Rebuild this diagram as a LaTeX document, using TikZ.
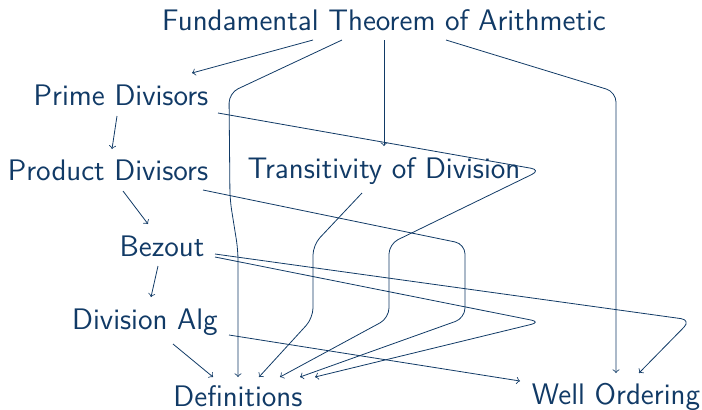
\documentclass[tikz,border=0pt]{standalone}
\usetikzlibrary{calc}
\definecolor{DeepBlue}{HTML}{113A66}
\begin{document}
\begin{tikzpicture}[x=0.5pt, y=-0.5pt,
  thm/.style={inner sep=0, anchor=base, text=DeepBlue, font=\sffamily\fontsize{14.85}{17}\selectfont},
  dep/.style={->, draw=DeepBlue, rounded corners=5pt}]
\useasboundingbox (0,0) rectangle (702,409);
% results, top to bottom
\node[thm] (fta)     at (384,30)  {Fundamental Theorem of Arithmetic};
\node[thm] (prime)   at (121,105) {Prime Divisors};
\node[thm] (product) at (108,180) {Product Divisors};
\node[thm] (trans)   at (384,178) {Transitivity of Division};
\node[thm] (bezout)  at (162,256) {Bezout};
\node[thm] (divalg)  at (145,329) {Division Alg};
\node[thm] (defs)    at (238,406) {Definitions};
\node[thm] (well)    at (616,404) {Well Ordering};
% straight dependencies
\draw[dep] ([shift={(-71,10)}]fta.base) -- ([shift={(71,-32)}]prime.base);
\draw[dep] ([shift={(0,10)}]fta.base) -- ([shift={(0,-32)}]trans.base);
\draw[dep] ([shift={(-4,11)}]prime.base) -- ([shift={(4,-31)}]product.base);
\draw[dep] ([shift={(15,11)}]product.base) -- ([shift={(-14,-32)}]bezout.base);
\draw[dep] ([shift={(-4,10)}]bezout.base) -- ([shift={(6,-32)}]divalg.base);
\draw[dep] ([shift={(28,15)}]divalg.base) -- ([shift={(-25,-29)}]defs.base);
\draw[dep] ([shift={(84,6)}]divalg.base) -- ([shift={(-96,-23)}]well.base);
% bent dependencies
\draw[dep] ([shift={(-42,10)}]fta.base) -- (229,93) -- (230,200) -- (238,250) -- ([shift={(0,-29)}]defs.base);
\draw[dep] ([shift={(62,10)}]fta.base) -- (616,92) -- ([shift={(0,-31)}]well.base);
\draw[dep] ([shift={(97,8)}]prime.base) -- (541,170) -- (389,244) -- (389,318) -- ([shift={(42,-29)}]defs.base);
\draw[dep] ([shift={(-22,15)}]trans.base) -- (313,245) -- (313,318) -- ([shift={(21,-29)}]defs.base);
\draw[dep] ([shift={(95,10)}]product.base) -- (465,244) -- (465,318) -- ([shift={(62,-29)}]defs.base);
\draw[dep] ([shift={(53,1)}]bezout.base) -- (541,322) -- ([shift={(77,-29)}]defs.base);
\draw[dep] ([shift={(53,-2)}]bezout.base) -- (691,320) -- ([shift={(23,-31)}]well.base);
\end{tikzpicture}
\end{document}
